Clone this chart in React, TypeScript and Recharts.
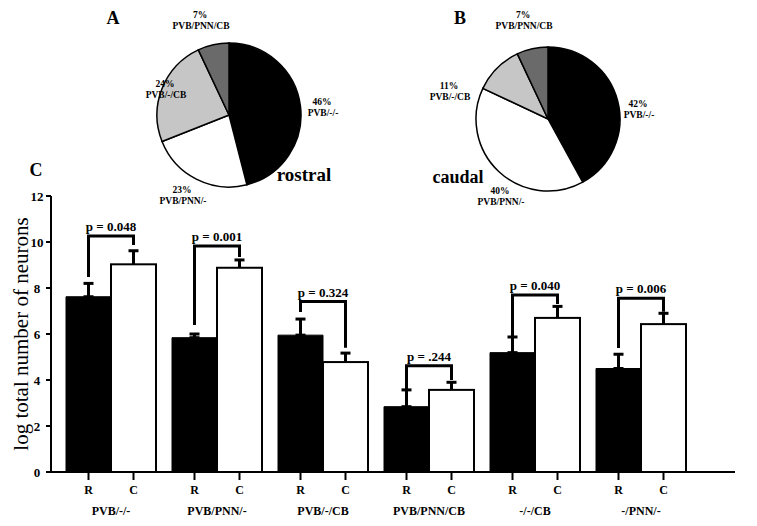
import { Bar, BarChart, Cell, ErrorBar, Pie, PieChart, XAxis, YAxis } from "recharts";

const FONT = '"Liberation Serif", "Times New Roman", serif';

// pie panels (A rostral, B caudal)
const sliceNames = ["PVB/-/-", "PVB/PNN/-", "PVB/-/CB", "PVB/PNN/CB"];
const rostralPct = [46, 23, 24, 7];
const caudalPct = [42, 40, 11, 7];
const SLICE_COLORS = ["#000000", "#ffffff", "#c6c6c6", "#6a6a6a"];

// bar panel C
const groups = ["PVB/-/-", "PVB/PNN/-", "PVB/-/CB", "PVB/PNN/CB", "-/-/CB", "-/PNN/-"];
const rostralMean = [7.62, 5.84, 5.95, 2.84, 5.19, 4.5];
const rostralErr = [0.58, 0.16, 0.7, 0.73, 0.68, 0.62];
const caudalMean = [9.03, 8.88, 4.78, 3.57, 6.7, 6.43];
const caudalErr = [0.59, 0.34, 0.39, 0.33, 0.5, 0.47];
const pValues = ["p = 0.048", "p = 0.001", "p = 0.324", "p = .244", "p = 0.040", "p = 0.006"];
const bracketTop = [10.26, 9.83, 7.41, 4.62, 7.7, 7.55];
const bracketLeft = [8.48, 6.39, 6.96, 3.57, 5.87, 5.39];
const bracketRight = [9.87, 9.35, 5.4, 4.0, 7.3, 6.97];
const yTicks = [0, 2, 4, 6, 8, 10, 12];

const BAR_SIZE = 45;

const rostralData = sliceNames.map((name, i) => ({ name, value: rostralPct[i] }));
const caudalData = sliceNames.map((name, i) => ({ name, value: caudalPct[i] }));

const barData = groups.map((group, i) => ({
  group,
  R: rostralMean[i],
  C: caudalMean[i],
  Rerr: [0, rostralErr[i]],
  Cerr: caudalErr[i],
  top: bracketTop[i],
  left: bracketLeft[i],
  right: bracketRight[i],
  p: pValues[i],
}));

// label spots for the pie slices: [x, y] of first line
const rostralSpots = [[322, 105], [182, 193], [165, 87], [200, 18]];
const caudalSpots = [[638, 107], [500, 194], [449, 89], [523, 18]];

// white bar with its upward error bar and the significance bracket over the pair
function CaudalBar(props: any) {
  const { x, y, width, height, payload } = props;
  const base = y + height;
  const unit = height / payload.C;
  const yv = (v: number) => base - v * unit;
  const xl = x - width / 2;
  const xr = x + width / 2;
  const errTop = yv(payload.C + payload.Cerr);
  return (
    <g>
      <rect x={x} y={y} width={width} height={height} fill="#fff" stroke="#000" strokeWidth={2} />
      <line x1={xr} x2={xr} y1={y} y2={errTop} stroke="#000" strokeWidth={3} />
      <line x1={xr - 5} x2={xr + 5} y1={errTop} y2={errTop} stroke="#000" strokeWidth={3} />
      <path
        d={`M${xl},${yv(payload.left)} V${yv(payload.top)} H${xr} V${yv(payload.right)}`}
        fill="none"
        stroke="#000"
        strokeWidth={3}
      />
      <text x={(xl + xr) / 2} y={yv(payload.top) - 5} textAnchor="middle" fontFamily={FONT} fontWeight="bold" fontSize={13}>
        {payload.p}
      </text>
    </g>
  );
}

function GroupTick({ x, y, payload }: any) {
  const half = BAR_SIZE / 2;
  return (
    <g fontFamily={FONT} fontWeight="bold" fontSize={12}>
      {(["R", "C"] as const).map((t, k) => {
        const cx = x + (k === 0 ? -half : half);
        return (
          <g key={t}>
            <line x1={cx} x2={cx} y1={y} y2={y + 8} stroke="#000" strokeWidth={2} />
            <text x={cx} y={y + 22} textAnchor="middle">{t}</text>
          </g>
        );
      })}
      <text x={x} y={y + 43} textAnchor="middle">{payload.value}</text>
    </g>
  );
}

function ValueTick({ x, y, payload }: any) {
  return (
    <text x={x - 9} y={y + 5} textAnchor="middle" fontFamily={FONT} fontWeight="bold" fontSize={13}>
      {payload.value}
    </text>
  );
}

function PieLabels({ data, spots }: { data: { name: string; value: number }[]; spots: number[][] }) {
  return (
    <>
      {data.map((d, i) => (
        <g key={d.name}>
          <text x={spots[i][0]} y={spots[i][1]} textAnchor="middle">{d.value}%</text>
          <text x={spots[i][0] + 1} y={spots[i][1] + 11} textAnchor="middle">{d.name}</text>
        </g>
      ))}
    </>
  );
}

export default function App() {
  return (
    <div style={{ position: "absolute", left: 0, top: 0, width: 757, height: 526, background: "#fff" }}>
      <div style={{ position: "absolute", left: 0, top: 0 }}>
        <BarChart
          width={757}
          height={526}
          data={barData}
          margin={{ top: 196, right: 22, bottom: 0, left: 0 }}
          barGap={0}
          barSize={BAR_SIZE}
        >
          <XAxis
            dataKey="group"
            height={54}
            padding={{ left: 7, right: 41 }}
            axisLine={{ stroke: "#000", strokeWidth: 2 }}
            tickLine={false}
            tickSize={0}
            tickMargin={0}
            tick={<GroupTick />}
            interval={0}
          />
          <YAxis
            width={51}
            domain={[0, 12]}
            ticks={yTicks}
            axisLine={{ stroke: "#000", strokeWidth: 2 }}
            tickLine={{ stroke: "#000", strokeWidth: 2 }}
            tickSize={5}
            tickMargin={0}
            tick={<ValueTick />}
          />
          <Bar dataKey="R" fill="#000" stroke="#000" strokeWidth={1} isAnimationActive={false}>
            <ErrorBar dataKey="Rerr" width={5} stroke="#000" strokeWidth={3} direction="y" />
          </Bar>
          <Bar dataKey="C" fill="#fff" shape={<CaudalBar />} isAnimationActive={false} />
        </BarChart>
      </div>
      <div style={{ position: "absolute", left: 0, top: 0 }}>
        <PieChart width={757} height={200}>
          <Pie
            data={rostralData}
            dataKey="value"
            nameKey="name"
            cx={224}
            cy={110}
            outerRadius={72}
            startAngle={90}
            endAngle={-270}
            stroke="#000"
            strokeWidth={1.5}
            isAnimationActive={false}
          >
            {rostralData.map((_, i) => <Cell key={i} fill={SLICE_COLORS[i]} />)}
          </Pie>
          <Pie
            data={caudalData}
            dataKey="value"
            nameKey="name"
            cx={543}
            cy={114}
            outerRadius={72}
            startAngle={90}
            endAngle={-270}
            stroke="#000"
            strokeWidth={1.5}
            isAnimationActive={false}
          >
            {caudalData.map((_, i) => <Cell key={i} fill={SLICE_COLORS[i]} />)}
          </Pie>
        </PieChart>
      </div>
      <svg width={757} height={526} style={{ position: "absolute", left: 0, top: 0, pointerEvents: "none" }}>
        <g fontFamily={FONT} fontWeight="bold" fontSize={9.5}>
          <PieLabels data={rostralData} spots={rostralSpots} />
          <PieLabels data={caudalData} spots={caudalSpots} />
        </g>
        <g fontFamily={FONT} fontWeight="bold">
          <text x={113} y={24} fontSize={18} textAnchor="middle">A</text>
          <text x={460} y={24} fontSize={18} textAnchor="middle">B</text>
          <text x={36} y={176} fontSize={18} textAnchor="middle">C</text>
          <text x={304} y={181} fontSize={19} textAnchor="middle">rostral</text>
          <text x={458} y={183} fontSize={18} textAnchor="middle">caudal</text>
        </g>
        <text
          transform="translate(28,334) rotate(-90)"
          textAnchor="middle"
          fontFamily={FONT}
          fontSize={21}
        >
          log total number of neurons
        </text>
      </svg>
    </div>
  );
}
